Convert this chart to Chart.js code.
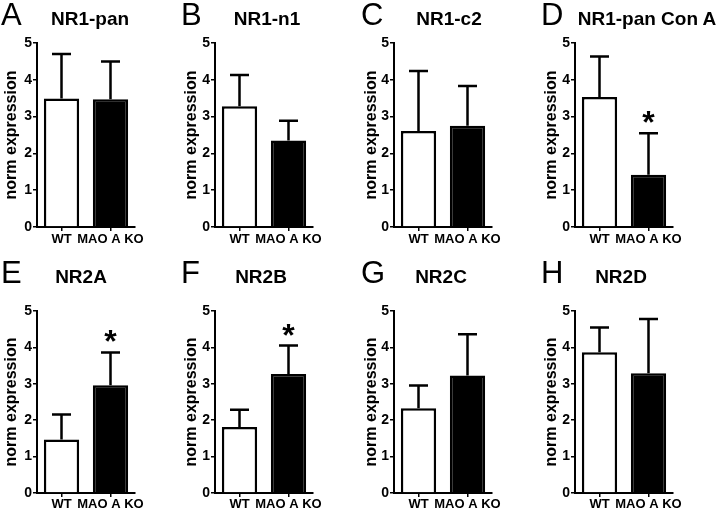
<!DOCTYPE html>
<html>
<head>
<meta charset="utf-8">
<script src="https://cdn.jsdelivr.net/npm/chart.js@4.4.1/dist/chart.umd.min.js"></script>
<style>
  body { margin: 0; background: #fff; }
  #figura { position: relative; width: 720px; height: 517px; overflow: hidden; background: #fff; }
  #figura canvas { position: absolute; }
  .letra { position: absolute; font: 31px 'Liberation Sans', Arial, sans-serif; line-height: 31px; color: #000; white-space: nowrap; }
  .titulo { position: absolute; font: bold 19px 'Liberation Sans', Arial, sans-serif; line-height: 19px; color: #000; white-space: nowrap; transform: translateX(-50%); }
</style>
</head>
<body>
<div id="figura"></div>
<script>
// dados
const categorias = ['WT', 'MAO A KO'];
const letras = ['A', 'B', 'C', 'D', 'E', 'F', 'G', 'H'];
const titulos = ['NR1-pan', 'NR1-n1', 'NR1-c2', 'NR1-pan Con A', 'NR2A', 'NR2B', 'NR2C', 'NR2D'];
const mediasWT = [3.49, 3.28, 2.61, 3.53, 1.47, 1.81, 2.33, 3.87];
const errosWT  = [1.21, 0.85, 1.63, 1.10, 0.69, 0.48, 0.62, 0.68];
const mediasKO = [3.47, 2.35, 2.75, 1.42, 2.96, 3.27, 3.23, 3.29];
const errosKO  = [1.03, 0.54, 1.08, 1.13, 0.90, 0.78, 1.13, 1.49];
const significativo = [false, false, false, true, true, true, false, false]; // asterisco no KO
const ticksY = [0, 1, 2, 3, 4, 5];

// layout dos painéis (pixels)
const eixoX = [37, 215, 394, 575];
const larguraPlot = 98;
const topoLinha = [0, 258];
const alturaLinha = [258, 259];
const topoPlot = [43, 311];
const basePlot = [227, 493];
const centroTitulo = [90, 87, 89, 107, 81, 81, 81, 81];

const fonte = 'Liberation Sans';

// plugin simples para barras de erro (só para cima) e asterisco
const pluginErro = {
  id: 'barrasErro',
  afterDatasetsDraw(chart) {
    const ctx = chart.ctx;
    const ds = chart.data.datasets[0];
    const meta = chart.getDatasetMeta(0);
    const y = chart.scales.y;
    ctx.save();
    ctx.strokeStyle = '#000';
    ctx.lineWidth = 2.5;
    meta.data.forEach((barra, i) => {
      const media = ds.data[i];
      const topo = y.getPixelForValue(media + ds.erros[i]);
      const base = y.getPixelForValue(media);
      ctx.beginPath();
      ctx.moveTo(barra.x, base);
      ctx.lineTo(barra.x, topo);
      ctx.moveTo(barra.x - 9.5, topo);
      ctx.lineTo(barra.x + 9.5, topo);
      ctx.stroke();
      if (ds.asterisco[i]) {
        ctx.fillStyle = '#000';
        ctx.font = 'bold 32px "Liberation Sans", Arial, sans-serif';
        ctx.textAlign = 'center';
        ctx.textBaseline = 'alphabetic';
        const m = ctx.measureText('*');
        const alvo = topo - 10;
        ctx.fillText('*', barra.x, alvo - m.actualBoundingBoxDescent);
      }
    });
    ctx.restore();
  }
};

const figura = document.getElementById('figura');

letras.forEach((letra, p) => {
  const linha = Math.floor(p / 4);
  const coluna = p % 4;
  const esquerda = coluna * 180;
  const topo = topoLinha[linha];
  const largura = 180;
  const altura = alturaLinha[linha];

  const canvas = document.createElement('canvas');
  canvas.width = largura;
  canvas.height = altura;
  canvas.style.left = esquerda + 'px';
  canvas.style.top = topo + 'px';
  figura.appendChild(canvas);

  const divLetra = document.createElement('div');
  divLetra.className = 'letra';
  divLetra.textContent = letra;
  divLetra.style.left = (esquerda + 1) + 'px';
  divLetra.style.top = (topo - 1) + 'px';
  figura.appendChild(divLetra);

  const divTitulo = document.createElement('div');
  divTitulo.className = 'titulo';
  divTitulo.textContent = titulos[p];
  divTitulo.style.left = (esquerda + centroTitulo[p]) + 'px';
  divTitulo.style.top = (topo + 9) + 'px';
  figura.appendChild(divTitulo);

  const larguraEixoY = eixoX[coluna] - esquerda;
  const direita = largura - (larguraEixoY + larguraPlot);
  const alturaEixoX = altura - (basePlot[linha] - topo);

  new Chart(canvas.getContext('2d'), {
    type: 'bar',
    data: {
      labels: categorias,
      datasets: [{
        data: [mediasWT[p], mediasKO[p]],
        erros: [errosWT[p], errosKO[p]],
        asterisco: [false, significativo[p]],
        backgroundColor: ['#ffffff', '#000000'],
        borderColor: '#000000',
        borderWidth: 2.5,
        barPercentage: 0.72,
        categoryPercentage: 1
      }]
    },
    options: {
      responsive: false,
      animation: false,
      devicePixelRatio: 1,
      layout: { padding: { top: topoPlot[linha] - topo, right: direita, left: 0, bottom: 0 } },
      plugins: { legend: { display: false }, tooltip: { enabled: false }, title: { display: false } },
      scales: {
        x: {
          grid: { display: true, drawOnChartArea: false, offset: false, tickLength: 4, color: '#000', lineWidth: 1.5 },
          border: { display: true, color: '#000', width: 2 },
          ticks: { color: '#000', font: { family: fonte, weight: 'bold', size: 13 }, padding: linha === 0 ? 1 : 0, maxRotation: 0, autoSkip: false },
          afterFit: s => { s.height = alturaEixoX; }
        },
        y: {
          min: 0,
          max: 5,
          afterBuildTicks: s => { s.ticks = ticksY.map(v => ({ value: v })); },
          grid: { display: true, drawOnChartArea: false, tickLength: 4, color: '#000', lineWidth: 1.5 },
          border: { display: true, color: '#000', width: 2 },
          ticks: { color: '#000', font: { family: fonte, weight: 'bold', size: 14 }, padding: 1 },
          title: { display: true, text: 'norm expression', color: '#000', padding: { top: 3, bottom: 0 },
                   font: { family: fonte, weight: 'bold', size: 16, lineHeight: 1.1 } },
          afterFit: s => { s.width = larguraEixoY; }
        }
      }
    },
    plugins: [pluginErro]
  });
});
</script>
</body>
</html>
